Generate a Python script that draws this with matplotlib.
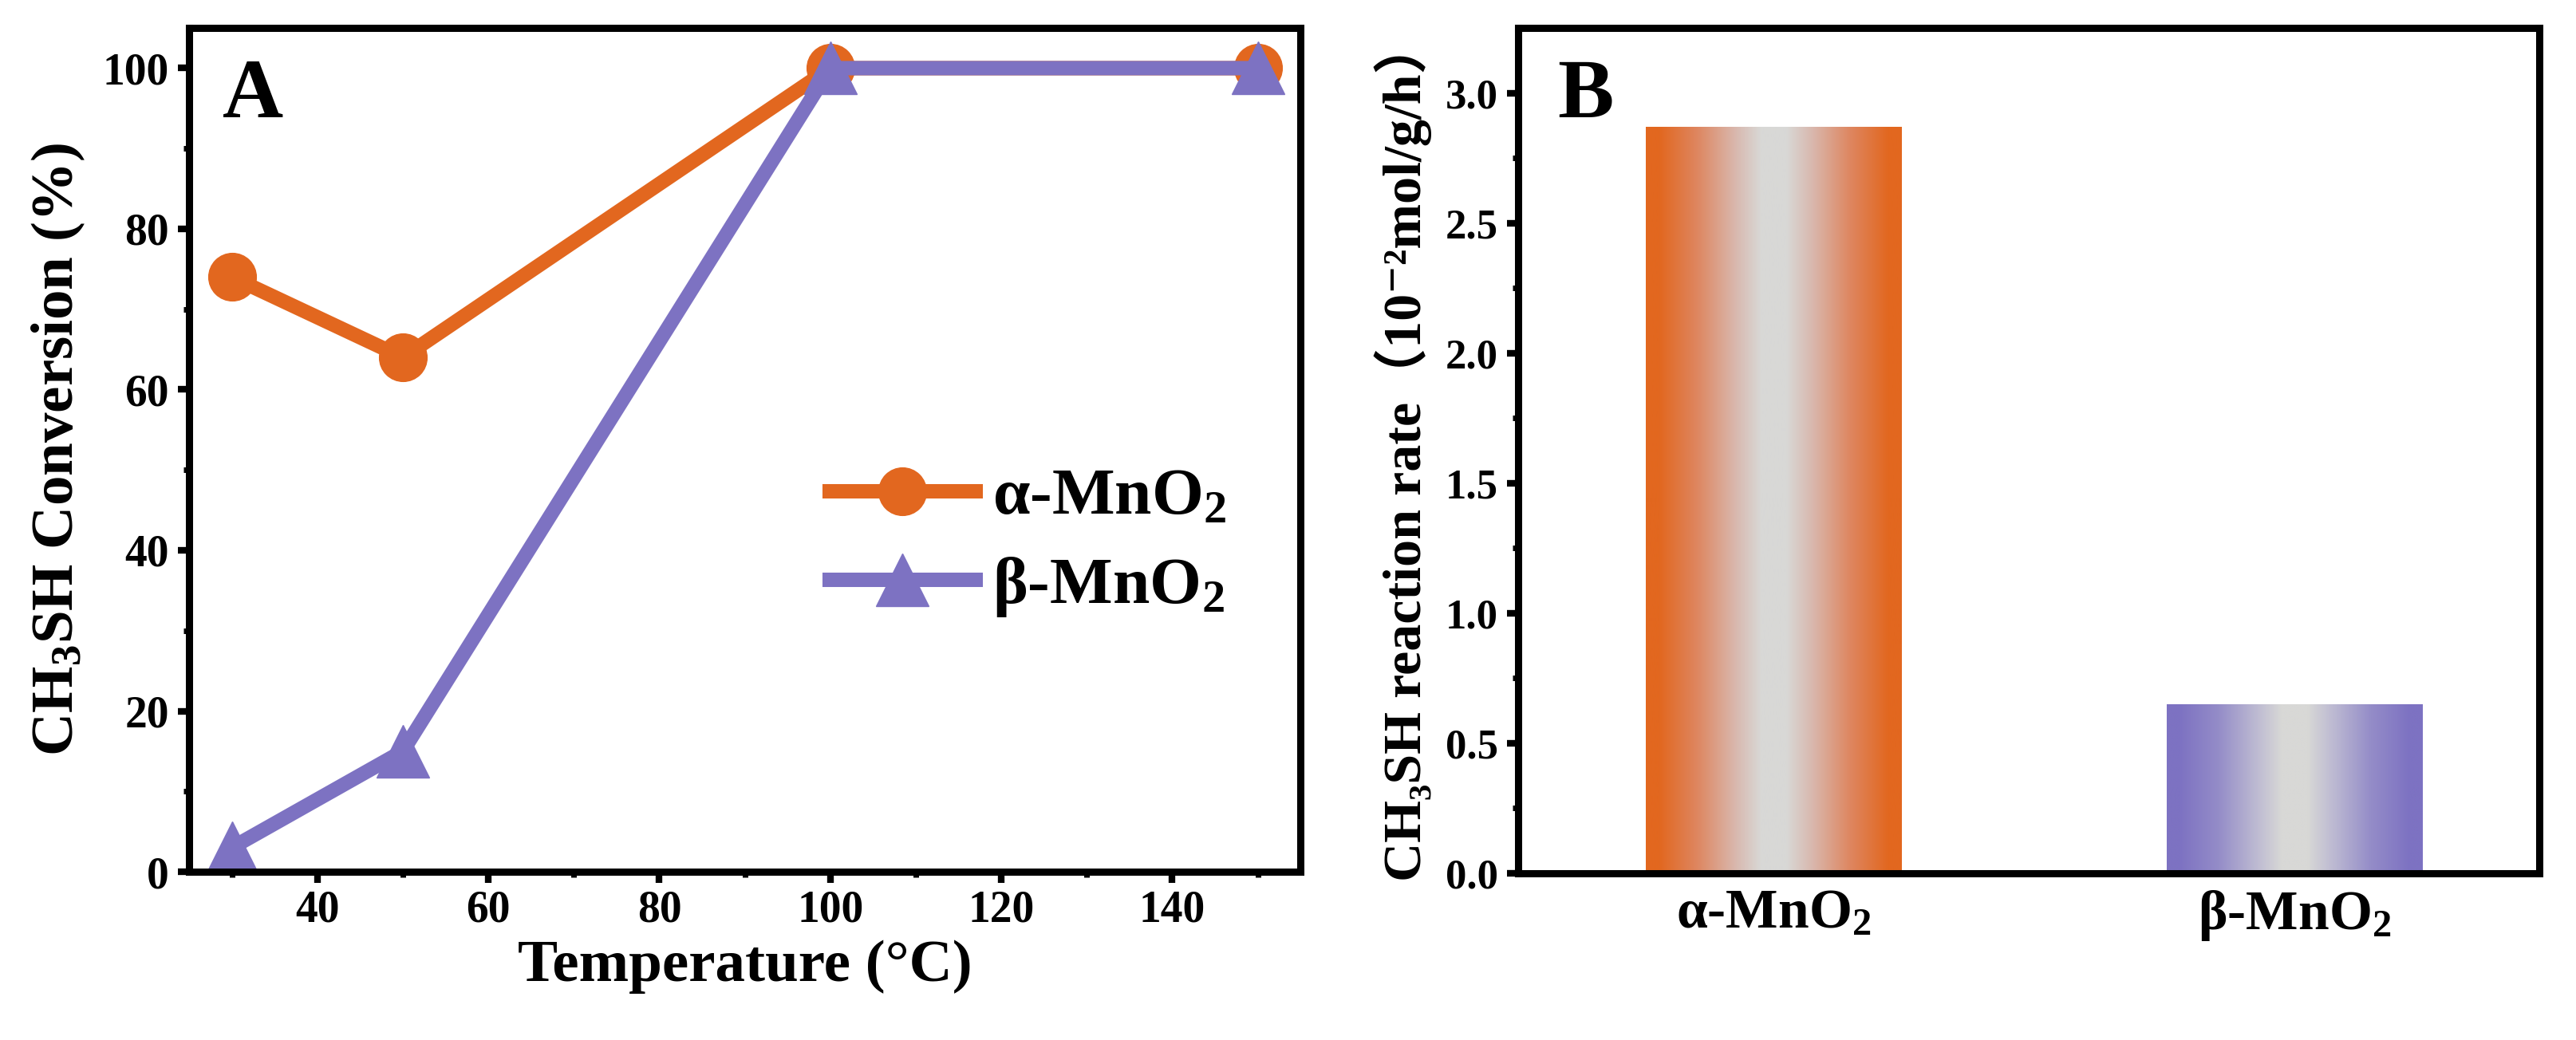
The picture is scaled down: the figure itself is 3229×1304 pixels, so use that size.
import numpy as np
import matplotlib
matplotlib.use('Agg')
import matplotlib.pyplot as plt
from matplotlib.colors import LinearSegmentedColormap

# data
temps = [30, 50, 100, 150]
alpha_conv = [74, 64, 100, 100]
beta_conv = [3, 15, 100, 100]
samples = ['$\\alpha$-MnO$_2$', '$\\beta$-MnO$_2$']
rates = [2.87, 0.65]

orange = '#E2671F'
purple = '#7D72C2'
gray = '#D8D8D6'

plt.rcParams['font.family'] = ['Liberation Serif', 'DejaVu Serif', 'Noto Sans CJK SC']
plt.rcParams['font.weight'] = 'bold'
plt.rcParams['axes.labelweight'] = 'bold'
plt.rcParams['mathtext.fontset'] = 'custom'
plt.rcParams['mathtext.rm'] = 'Liberation Serif:bold'
plt.rcParams['mathtext.it'] = 'Liberation Serif:bold'
plt.rcParams['mathtext.bf'] = 'Liberation Serif:bold'
plt.rcParams['mathtext.default'] = 'rm'

fig = plt.figure(figsize=(32.3, 13.04), dpi=100)
ax1 = fig.add_axes([0.0734, 0.1618, 0.4313, 0.8113])
ax2 = fig.add_axes([0.5892, 0.1603, 0.3963, 0.8128])

for ax in (ax1, ax2):
    for s in ax.spines.values():
        s.set_linewidth(6.5)
    ax.tick_params(which='major', direction='out', length=10, width=6, labelsize=40, pad=8)
    ax.tick_params(which='minor', direction='out', length=5, width=5)

########## panel A
ax1.plot(temps, alpha_conv, '-o', color=orange, lw=13, ms=43, label='$\\alpha$-MnO$_2$')
ax1.plot(temps, beta_conv, '-^', color=purple, lw=13, ms=48, label='$\\beta$-MnO$_2$')
ax1.set_xlim(25, 155)
ax1.set_ylim(0, 105)
ax1.set_xticks([40, 60, 80, 100, 120, 140])
ax1.set_xticks(np.arange(30, 155, 10), minor=True)
ax1.set_yticks([0, 20, 40, 60, 80, 100])
ax1.set_yticks(np.arange(10, 105, 10), minor=True)
ax1.tick_params(axis='x', pad=6)
ax1.set_xlabel('Temperature (\u00b0C)', fontsize=54, labelpad=8)
ax1.set_ylabel('CH$_3$SH Conversion (%)', fontsize=54, labelpad=14)
ax1.text(0.03, 0.918, 'A', transform=ax1.transAxes, fontsize=76, va='center', ha='left')
ax1.legend(loc='center left', bbox_to_anchor=(0.576, 0.389), frameon=False, fontsize=60,
           handlelength=2.2, handletextpad=0.25, borderpad=0, borderaxespad=0, labelspacing=0.4)

########## panel B
xpos = np.arange(len(samples))
bars = ax2.bar(xpos, rates, width=0.49, color='none', edgecolor='none')
stops = [0, 0.05, 0.2, 0.35, 0.45, 0.55, 0.65, 0.8, 0.95, 1.0]
mids = {orange: ('#DE8660', '#D9B8AE'), purple: ('#948CC8', '#BDBAD2')}
for b, c in zip(bars, [orange, purple]):
    m1, m2 = mids[c]
    cmap = LinearSegmentedColormap.from_list('g', list(zip(stops, [c, c, m1, m2, gray, gray, m2, m1, c, c])))
    x0, y0 = b.get_x(), b.get_y()
    im = ax2.imshow(np.linspace(0, 1, 256).reshape(1, -1), cmap=cmap, aspect='auto',
                    extent=[x0, x0 + b.get_width(), y0, y0 + b.get_height()], zorder=2)
    im.set_clip_path(b)
ax2.set_xlim(-0.49, 1.47)
ax2.set_ylim(0, 3.25)
ax2.set_xticks(xpos)
ax2.set_xticklabels(samples, fontsize=50)
ax2.tick_params(axis='x', length=0, pad=14)
ax2.set_yticks([0, 0.5, 1.0, 1.5, 2.0, 2.5, 3.0])
ax2.set_yticks(np.arange(0.25, 3.25, 0.5), minor=True)
ax2.tick_params(axis='y', labelsize=38)
ax2.set_ylabel('CH\u2083SH reaction rate\uff0810\u207b\u00b2mol/g/h\uff09', fontsize=49, labelpad=12)
ax2.text(0.038, 0.918, 'B', transform=ax2.transAxes, fontsize=76, va='center', ha='left')

fig.savefig('out.png', dpi=100)
